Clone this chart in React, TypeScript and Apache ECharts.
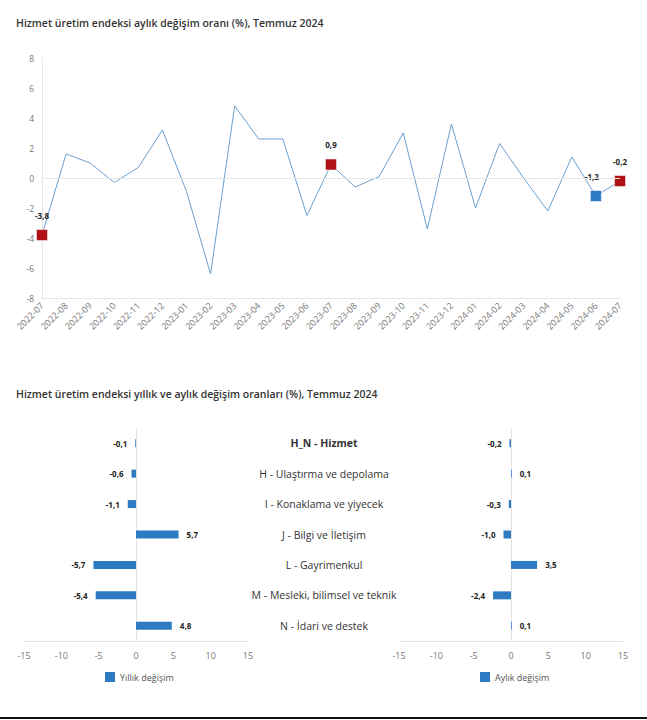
import React, { useEffect, useRef } from "react";
import * as echarts from "echarts";

const months = [
  "2022-07", "2022-08", "2022-09", "2022-10", "2022-11", "2022-12",
  "2023-01", "2023-02", "2023-03", "2023-04", "2023-05", "2023-06",
  "2023-07", "2023-08", "2023-09", "2023-10", "2023-11", "2023-12",
  "2024-01", "2024-02", "2024-03", "2024-04", "2024-05", "2024-06", "2024-07",
];
const monthlyValues = [
  -3.8, 1.6, 1.0, -0.3, 0.7, 3.2,
  -0.9, -6.4, 4.8, 2.6, 2.6, -2.5,
  0.9, -0.6, 0.1, 3.0, -3.4, 3.6,
  -2.0, 2.3, 0.0, -2.2, 1.4, -1.2, -0.2,
];
const redMarked = ["2022-07", "2023-07", "2024-07"];
const blueMarked = ["2024-06"];

const sectors = [
  "H_N - Hizmet",
  "H - Ulaştırma ve depolama",
  "I - Konaklama ve yiyecek",
  "J - Bilgi ve İletişim",
  "L - Gayrimenkul",
  "M - Mesleki, bilimsel ve teknik",
  "N - İdari ve destek",
];
const annualChange = [-0.1, -0.6, -1.1, 5.7, -5.7, -5.4, 4.8];
const monthlyChange = [-0.2, 0.1, -0.3, -1.0, 3.5, -2.4, 0.1];
const barTicks = [-15, 15, 5];

const FONT = "'Open Sans', 'Noto Sans', sans-serif";
const fmt = (v: number) => v.toFixed(1).replace(".", ",");

export default function App() {
  const ref = useRef<HTMLDivElement>(null);
  useEffect(() => {
    if (!ref.current) return;
    const chart = echarts.init(ref.current, null, { renderer: "svg" });

    const lineData = monthlyValues.map((v, i) => {
      const m = months[i];
      const isRed = redMarked.includes(m);
      const isBlue = blueMarked.includes(m);
      if (isRed || isBlue) {
        return {
          value: v,
          symbol: "rect",
          symbolSize: 11,
          itemStyle: { color: isRed ? "#B01116" : "#2E7BC4", borderColor: "#fff", borderWidth: 0.5 },
          label: {
            show: true,
            position: "top",
            distance: 10,
            formatter: () => fmt(v),
            fontSize: 8,
            fontWeight: "bold",
            color: "#222",
            fontFamily: FONT,
            offset: isBlue ? [-4, 0] : [0, 0],
          },
        };
      }
      return { value: v, symbol: "none" };
    });

    const barLabel = (vals: number[]) =>
      vals.map((v) => ({
        value: v,
        label: {
          show: true,
          position: v < 0 ? "left" : "right",
          distance: 8,
          formatter: () => fmt(v),
          fontSize: 8,
          fontWeight: "bold",
          color: "#222",
          fontFamily: FONT,
        },
      }));

    const valueAxis = (gridIndex: number) => ({
      type: "value",
      gridIndex,
      min: barTicks[0],
      max: barTicks[1],
      interval: barTicks[2],
      axisLine: { show: true, lineStyle: { color: "#e4e4e4" } },
      axisTick: { show: false },
      splitLine: { show: false },
      axisLabel: { color: "#777", fontSize: 9, fontFamily: FONT, margin: 10 },
    });

    chart.setOption({
      animation: false,
      backgroundColor: "#fff",
      textStyle: { fontFamily: FONT },
      title: [
        {
          text: "Hizmet üretim endeksi aylık değişim oranı (%), Temmuz 2024",
          left: 11,
          top: 12,
          textStyle: { fontSize: 10.5, fontWeight: 600, color: "#333", fontFamily: FONT },
        },
        {
          text: "Hizmet üretim endeksi yıllık ve aylık değişim oranları (%), Temmuz 2024",
          left: 11,
          top: 383,
          textStyle: { fontSize: 10.5, fontWeight: 600, color: "#333", fontFamily: FONT },
        },
      ],
      legend: [
        {
          data: ["Yıllık değişim"],
          left: 100,
          top: 667,
          icon: "rect",
          itemWidth: 10,
          itemHeight: 10,
          itemGap: 6,
          textStyle: { color: "#555", fontSize: 9, fontFamily: FONT },
        },
        {
          data: ["Aylık değişim"],
          left: 475,
          top: 667,
          icon: "rect",
          itemWidth: 10,
          itemHeight: 10,
          itemGap: 6,
          textStyle: { color: "#555", fontSize: 9, fontFamily: FONT },
        },
      ],
      grid: [
        { left: 42, right: 27, top: 58, height: 240 },
        { left: 24, right: 399, top: 428, height: 213 },
        { left: 399, right: 24, top: 428, height: 213 },
      ],
      xAxis: [
        {
          type: "category",
          gridIndex: 0,
          data: months,
          boundaryGap: false,
          axisLine: { show: true, onZero: false, lineStyle: { color: "#e6e6e6" } },
          axisTick: { show: false },
          axisLabel: { rotate: 45, color: "#777", fontSize: 9, fontFamily: FONT, margin: 6, interval: 0 },
          splitLine: { show: false },
        },
        valueAxis(1),
        valueAxis(2),
      ],
      yAxis: [
        {
          type: "value",
          gridIndex: 0,
          min: -8,
          max: 8,
          interval: 2,
          axisLine: { show: true, lineStyle: { color: "#e6e6e6" } },
          axisTick: { show: false },
          splitLine: { show: false },
          axisLabel: { color: "#777", fontSize: 8.5, fontFamily: FONT, margin: 8 },
        },
        {
          type: "category",
          gridIndex: 1,
          data: sectors,
          inverse: true,
          axisLine: { show: true, onZero: true, lineStyle: { color: "#e4e4e4" } },
          axisTick: { show: false },
          axisLabel: { show: false },
        },
        {
          type: "category",
          gridIndex: 2,
          data: sectors,
          inverse: true,
          axisLine: { show: true, onZero: true, lineStyle: { color: "#e4e4e4" } },
          axisTick: { show: false },
          axisLabel: {
            show: true,
            inside: false,
            align: "center",
            margin: 75,
            color: "#333",
            fontSize: 10.5,
            fontFamily: FONT,
            formatter: (v: string) => (v === sectors[0] ? "{b|" + v + "}" : v),
            rich: { b: { fontWeight: "bold", fontSize: 10.5, color: "#333", fontFamily: FONT } },
          },
        },
      ],
      series: [
        {
          type: "line",
          xAxisIndex: 0,
          yAxisIndex: 0,
          data: lineData,
          lineStyle: { color: "#6b9fcf", width: 1 },
          itemStyle: { color: "#6b9fcf" },
          showSymbol: true,
          markLine: {
            silent: true,
            symbol: "none",
            label: { show: false },
            lineStyle: { color: "#e6e6e6", type: "solid", width: 1 },
            data: [{ yAxis: 0 }],
          },
          z: 3,
        },
        {
          name: "Yıllık değişim",
          type: "bar",
          xAxisIndex: 1,
          yAxisIndex: 1,
          data: barLabel(annualChange),
          barWidth: 8,
          itemStyle: { color: "#2E7BC4" },
        },
        {
          name: "Aylık değişim",
          type: "bar",
          xAxisIndex: 2,
          yAxisIndex: 2,
          data: barLabel(monthlyChange),
          barWidth: 8,
          itemStyle: { color: "#2E7BC4" },
        },
      ],
      graphic: [
        { type: "rect", left: 0, top: 717, shape: { width: 647, height: 2 }, style: { fill: "#111" } },
      ],
    });
    return () => chart.dispose();
  }, []);
  return (
    <div
      ref={ref}
      style={{ position: "fixed", left: 0, top: 0, width: 647, height: 720, background: "#fff" }}
    />
  );
}
